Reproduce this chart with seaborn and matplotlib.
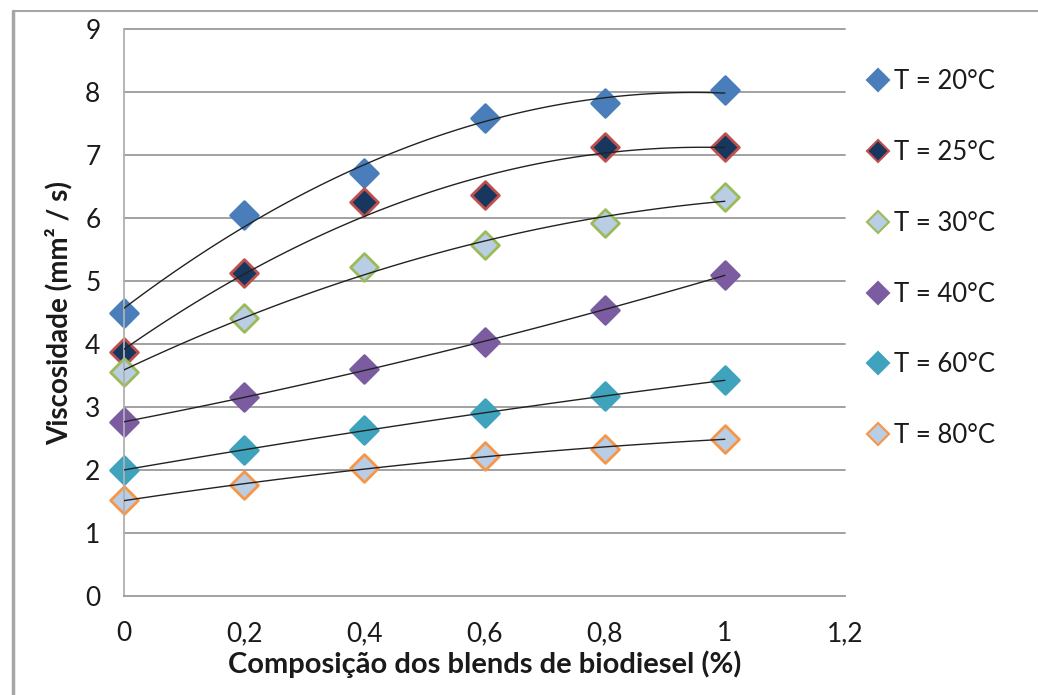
import numpy as np
import pandas as pd
import seaborn as sns
import matplotlib.pyplot as plt
from matplotlib.lines import Line2D

# blend composition (x) and viscosity readings per temperature
composicao = [0.0, 0.2, 0.4, 0.6, 0.8, 1.0]
visc_20 = [4.49, 6.05, 6.72, 7.59, 7.83, 8.03]
visc_25 = [3.87, 5.13, 6.25, 6.37, 7.13, 7.13]
visc_30 = [3.56, 4.42, 5.22, 5.58, 5.93, 6.33]
visc_40 = [2.76, 3.16, 3.60, 4.03, 4.54, 5.10]
visc_60 = [2.00, 2.32, 2.64, 2.90, 3.17, 3.43]
visc_80 = [1.52, 1.76, 2.04, 2.22, 2.34, 2.50]

series_labels = ["T = 20°C", "T = 25°C", "T = 30°C", "T = 40°C", "T = 60°C", "T = 80°C"]
x_ticks = [0, 0.2, 0.4, 0.6, 0.8, 1.0, 1.2]
x_ticklabels = ["0", "0,2", "0,4", "0,6", "0,8", "1", "1,2"]
y_ticks = list(range(0, 10))

# (fill, edge) colours, Excel 2007 style
styles = [
    ("#4a7ebb", "#4a7ebb"),
    ("#17375e", "#c0504d"),
    ("#b9cde5", "#9bbb59"),
    ("#7b5ca0", "#7b5ca0"),
    ("#3fa3bd", "#3fa3bd"),
    ("#b9cde5", "#f79646"),
]

all_vals = [visc_20, visc_25, visc_30, visc_40, visc_60, visc_80]
df = pd.concat(
    [pd.DataFrame({"x": composicao, "y": v, "serie": lab}) for v, lab in zip(all_vals, series_labels)],
    ignore_index=True,
)

sns.set_style("white")
plt.rcParams["font.family"] = ["Lato", "DejaVu Sans"]

fig = plt.figure(figsize=(10.38, 6.95), dpi=100)
ax = fig.add_axes([0.1195, 0.1424, 0.8141 - 0.1195, 0.958 - 0.1424])

grid_col = "#9a9a9a"
txt_col = "#1a1a1a"
for yv in y_ticks[1:]:
    ax.axhline(yv, color=grid_col, lw=1.3, zorder=0, clip_on=False)

# trendlines (2nd order polynomial, like the Excel trendline)
for lab in series_labels:
    sub = df[df["serie"] == lab]
    sns.regplot(data=sub, x="x", y="y", order=2, ci=None, scatter=False, ax=ax,
                line_kws=dict(color="#222222", lw=1.0, zorder=3))

# markers
for lab, (fc, ec) in zip(series_labels, styles):
    sub = df[df["serie"] == lab]
    sns.scatterplot(data=sub, x="x", y="y", ax=ax, marker="D", s=200,
                    color=fc, edgecolor=ec, linewidth=2.0, zorder=2, legend=False,
                    clip_on=False)

ax.set_xlim(0, 1.2)
ax.set_ylim(0, 9)
ax.set_xticks(x_ticks)
ax.set_xticklabels(x_ticklabels)
ax.set_yticks(y_ticks)
ax.tick_params(axis="both", labelsize=19, labelcolor=txt_col)
ax.tick_params(axis="y", length=9, width=1.3, color=grid_col, pad=8)
ax.tick_params(axis="x", length=6, width=1.3, color=grid_col, pad=12)

for side in ["top", "right"]:
    ax.spines[side].set_visible(False)
ax.spines["left"].set_color("#b0b0b0")
ax.spines["left"].set_linewidth(1.3)
ax.spines["bottom"].set_color(grid_col)
ax.spines["bottom"].set_linewidth(1.3)

ax.set_xlabel("Composição dos blends de biodiesel (%)", fontsize=21, fontweight="bold",
              color=txt_col, labelpad=3)
ax.set_ylabel("Viscosidade (mm² / s)", fontsize=20, fontweight="bold",
              color=txt_col, labelpad=9)

handles = [Line2D([], [], marker="D", ls="", markersize=11, markerfacecolor=fc,
                  markeredgecolor=ec, markeredgewidth=1.5) for fc, ec in styles]
leg = fig.legend(handles, series_labels, loc="upper left", bbox_to_anchor=(0.822, 0.915),
                 frameon=False, fontsize=18.5, labelspacing=1.78, handletextpad=0.1,
                 handlelength=1.1, borderaxespad=0)
for t in leg.get_texts():
    t.set_color(txt_col)

# chart area border (left and top visible in the original)
fig.add_artist(Line2D([13 / 1038, 13 / 1038], [0, 1 - 11 / 695], transform=fig.transFigure,
                      color="#a6a6a6", lw=2.5))
fig.add_artist(Line2D([13 / 1038, 1], [1 - 11 / 695, 1 - 11 / 695], transform=fig.transFigure,
                      color="#a6a6a6", lw=1.5))

fig.savefig("out.png", dpi=100)
